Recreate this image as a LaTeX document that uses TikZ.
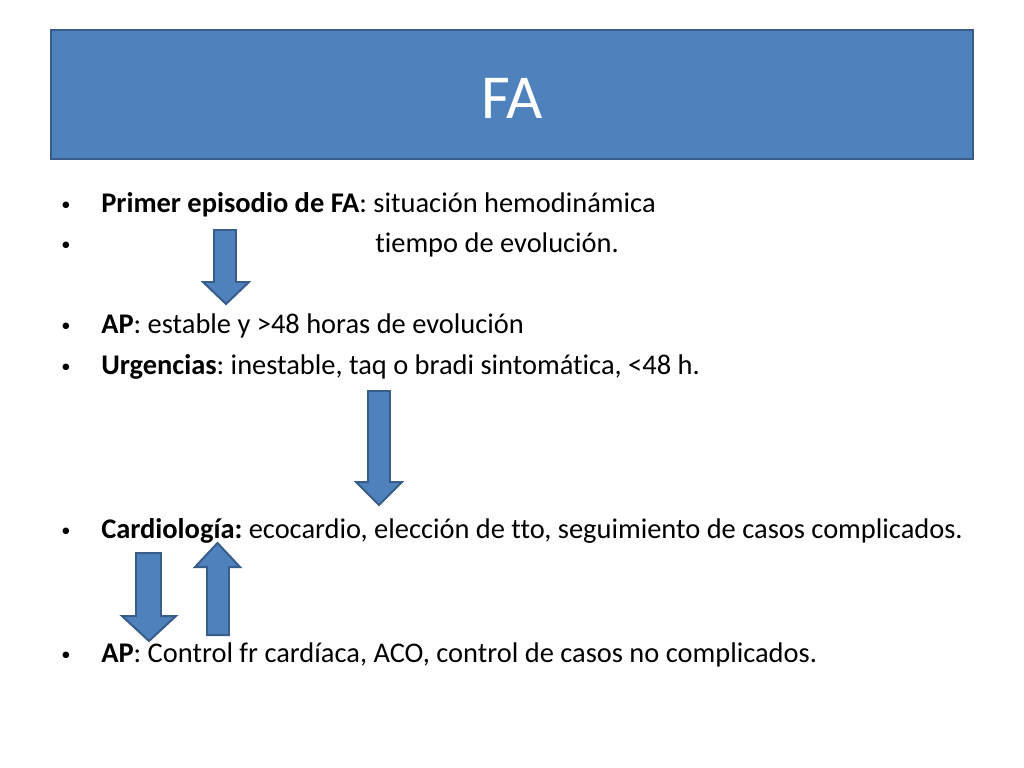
\documentclass[tikz,border=0pt]{standalone}
\usepackage{fontspec}
\setmainfont[Ligatures=NoCommon]{Carlito}
\definecolor{boxblue}{RGB}{79,129,189}
\definecolor{edgeblue}{RGB}{56,93,138}
\tikzset{
  blockarrow/.style={fill=boxblue, draw=edgeblue, line width=1.4pt, line join=miter},
  item/.style={anchor=base west, inner sep=0pt, font=\fontsize{20}{24}\selectfont},
  dot/.style={anchor=base west, inner sep=0pt, font=\fontsize{13}{16}\selectfont},
}
\def\blockarrow(#1,#2,#3)(#4,#5,#6,#7){\draw[blockarrow] (#1,#3) -- (#2,#3) -- (#2,#6) -- (#5,#6) -- ({(#4+#5)/2},#7) -- (#4,#6) -- (#1,#6) -- cycle;}
\frenchspacing

\begin{document}
\begin{tikzpicture}[x=0.703pt, y=-0.703pt]
			%%%%% START %%%%%
			\useasboundingbox (0,0) rectangle (1024,768);
			\fill[white] (0,0) rectangle (1024,768);
			
			\draw[fill=boxblue, draw=edgeblue, line width=1.4pt] (51,30) rectangle (973,159);
			\node[anchor=base, inner sep=0pt, text=white, font=\fontsize{44}{50}\selectfont] (title) at (512,118) {FA};
			
			\node[dot] (b1) at (61,210) {•};
			\node[item] (t1) at (101,212) {\textbf{Primer episodio de FA}: situación hemodinámica};
			\node[dot] (b2) at (61,250) {•};
			\node[item] (t2) at (375,252) {tiempo de evolución.};
			\node[dot] (b3) at (61,331) {•};
			\node[item] (t3) at (101,333) {\textbf{AP}: estable y >48 horas de evolución};
			\node[dot] (b4) at (61,372) {•};
			\node[item] (t4) at (101,374) {\textbf{Urgencias}: inestable, taq o bradi sintomática, <48 h.};
			\node[dot] (b5) at (61,536) {•};
			\node[item] (t5) at (101,538) {\textbf{Cardiología:} ecocardio, elección de tto, seguimiento de casos complicados.};
			\node[dot] (b6) at (61,660) {•};
			\node[item] (t6) at (101,662) {\textbf{AP}: Control fr cardíaca, ACO, control de casos no complicados.};
			
			\blockarrow(214,236,230)(203,249,282,304)
			\blockarrow(368,390,391)(356,402,482,505)
			\blockarrow(136,161,553)(122,176,616,641)
			\blockarrow(207,229,635)(195,240,567,543)
			
			%%%%% END %%%%%
\end{tikzpicture}
\end{document}
